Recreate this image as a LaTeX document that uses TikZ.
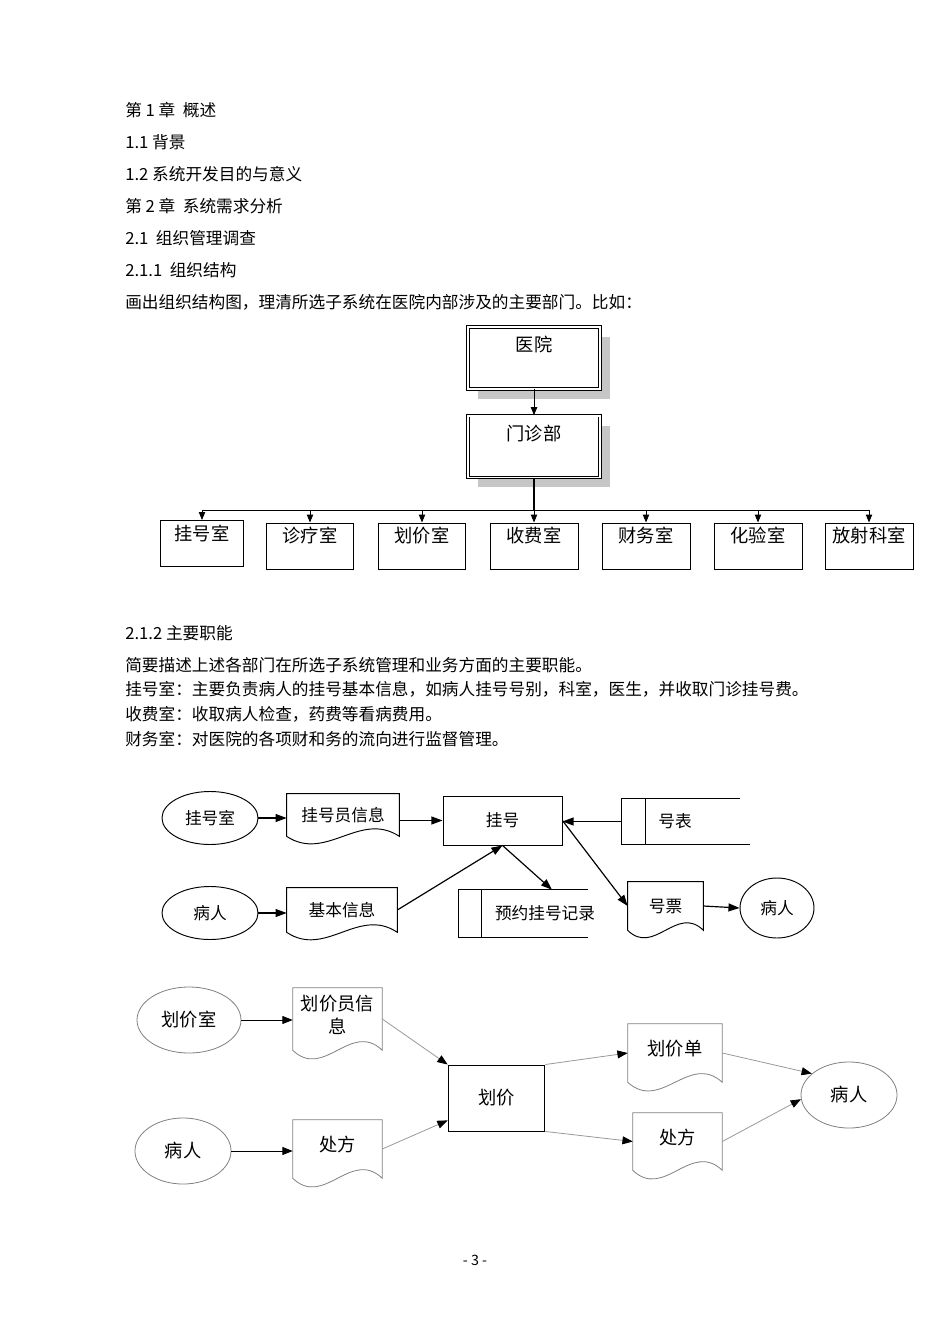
\documentclass[tikz,border=0pt]{standalone}
\usepackage{fontspec}
\setmainfont{Noto Sans CJK SC}
\usetikzlibrary{arrows.meta,shapes.geometric,shadows,calc,positioning}

\tikzset{
  txt/.style={font=\fontsize{10.5pt}{13pt}\selectfont, inner sep=0pt},
  bigtxt/.style={font=\fontsize{11.5pt}{15pt}\selectfont, inner sep=0pt},
  topbox/.style={bigtxt, draw, fill=white, line width=0.5pt, double, double distance=1.2pt,
    minimum width=83pt, text height=15.7pt, text depth=23.3pt,
    drop shadow={shadow xshift=6.3pt, shadow yshift=-6.3pt, fill=gray!45, opacity=1}},
  deptbox/.style={bigtxt, draw, line width=0.6pt, minimum width=55.4pt, text height=12.5pt, text depth=16.5pt},
  orgarr/.style={line width=0.6pt, -{Triangle[length=5pt,width=4pt]}},
  ent/.style={txt, draw, ellipse, line width=0.6pt, minimum width=60.5pt, minimum height=33.4pt},
  proc/.style={txt, draw, line width=0.55pt, minimum width=75pt, minimum height=30.9pt},
  docbox/.style={txt},
  storebox/.style={txt},
  arr/.style={line width=0.75pt, -{Triangle[length=7pt,width=5pt]}},
  entb/.style={bigtxt, draw=gray, ellipse, line width=0.5pt, minimum width=60.5pt, minimum height=41.6pt},
  procb/.style={bigtxt, draw, line width=0.6pt, minimum width=61pt, minimum height=41.6pt},
  docb/.style={bigtxt, align=center, text depth=6pt},
  arrb/.style={line width=0.6pt, -{Triangle[length=6.5pt,width=5pt]}},
  arrg/.style={line width=0.5pt, draw=gray!80, -{Triangle[length=6.5pt,width=5pt,color=black]}},
}

\begin{document}
\begin{tikzpicture}[x=0.63pt,y=-0.63pt]
  \path[fill=white] (0,0) rectangle (950,1344);
  \useasboundingbox (0,0) rectangle (950,1344);

  % headings
  \node(T1)[txt,anchor=west] at (125,110) {第 1 章~ 概述};
  \node(T2)[txt,anchor=west] at (125,142) {1.1 背景};
  \node(T3)[txt,anchor=west] at (125,174) {1.2 系统开发目的与意义};
  \node(T4)[txt,anchor=west] at (125,206) {第 2 章~ 系统需求分析};
  \node(T5)[txt,anchor=west] at (125,238) {2.1~ 组织管理调查};
  \node(T6)[txt,anchor=west] at (125,270) {2.1.1~ 组织结构};
  \node(T7)[txt,anchor=west] at (125,302) {画出组织结构图，理清所选子系统在医院内部涉及的主要部门。比如：};

  % org chart
  \node(YY)[topbox] at (534,358) {医院};
  \node(MZB)[topbox] at (534,446.5) {门诊部};
  \draw[orgarr] (YY) -- (MZB);

  \node(GHS)[deptbox,minimum width=52.3pt] at (202,543.5) {挂号室};
  \node(ZLS)[deptbox] at (310,546) {诊疗室};
  \node(HJS)[deptbox] at (422,546) {划价室};
  \node(SFS)[deptbox] at (534,546) {收费室};
  \node(CWS)[deptbox] at (646,546) {财务室};
  \node(HYS)[deptbox] at (758,546) {化验室};
  \node(FSKS)[deptbox] at (869,546) {放射科室};

  \coordinate(BUS) at (534,510);
  \draw[line width=1pt] (MZB.south) -- (BUS);
  \foreach \d in {GHS,ZLS,HJS,SFS,CWS,HYS,FSKS}
    \draw[orgarr] (BUS) -| (\d.north);

  % functions
  \node(T8)[txt,anchor=west] at (125,633) {2.1.2 主要职能};
  \node(T9)[txt,anchor=west] at (125,665) {简要描述上述各部门在所选子系统管理和业务方面的主要职能。};
  \node(T10)[txt,anchor=west] at (125,689) {挂号室：主要负责病人的挂号基本信息，如病人挂号号别，科室，医生，并收取门诊挂号费。};
  \node(T11)[txt,anchor=west] at (125,714) {收费室：收取病人检查，药费等看病费用。};
  \node(T12)[txt,anchor=west] at (125,739) {财务室：对医院的各项财和务的流向进行监督管理。};

  % registration flow
  \node(E1)[ent] at (210,818) {挂号室};
  \node(E2)[ent] at (210,913) {病人};
  \node(D1)[docbox,minimum width=70.6pt,minimum height=26.5pt] at (343,815) {挂号员信息};
  \node(D2)[docbox,minimum width=69.3pt,minimum height=27.7pt] at (342,910) {基本信息};
  \node(P1)[proc] at (502.5,820.5) {挂号};
  \node(S1)[storebox,minimum width=66.8pt,minimum height=28.4pt] at (675,821.5) {号表};
  \node(S2)[storebox,minimum width=108.4pt,minimum height=29.6pt] at (545,913.5) {预约挂号记录};
  \node(D3)[docbox,minimum width=47.3pt,minimum height=30.2pt] at (665.5,906) {号票};
  \node(E3)[ent,minimum width=46.6pt,minimum height=37.8pt] at (777,908) {病人};

  \foreach \n in {D1,D2,D3}
    \draw[line width=0.6pt] (\n.south west) -- (\n.north west) -- (\n.north east) -- (\n.south east)
      .. controls ($(\n.south east)!0.35!(\n.south west)+(0,-26)$) and ($(\n.south east)!0.65!(\n.south west)+(0,26)$) .. (\n.south west);

  \draw[line width=0.6pt] ([xshift=74.3pt]S1.north west) -- (S1.north west) -- (S1.south west) -- ([xshift=80.6pt]S1.south west);
  \draw[line width=0.6pt] ([xshift=15.1pt]S1.north west) -- ([xshift=15.1pt]S1.south west);
  \draw[line width=0.6pt] ([xshift=81.3pt]S2.north west) -- (S2.north west) -- (S2.south west) -- ([xshift=81.3pt]S2.south west);
  \draw[line width=0.6pt] ([xshift=14.5pt]S2.north west) -- ([xshift=14.5pt]S2.south west);

  \draw[arr] (E1.east) -- (E1.east -| D1.west);
  \draw[arr] (E2.east) -- (E2.east -| D2.west);
  \draw[arr] (D1.east |- P1.west) -- (P1.west);
  \draw[arr] (S1.west) -- (S1.west -| P1.east);
  \draw[arr] (D2.east) -- (P1.south);
  \draw[arr] (P1.south) -- ($(S2.north)+(7,0)$);
  \draw[arr] (P1.east) -- (D3.west);
  \draw[arr] (D3.east) -- (E3.west);

  % pricing flow
  \node(E4)[entb,minimum width=65.5pt] at (189,1020) {划价室};
  \node(E5)[entb] at (183,1151) {病人};
  \node(D4)[docb,minimum width=56pt,minimum height=39pt] at (337.5,1019) {划价员信\\息};
  \node(D5)[docb,minimum width=56pt,minimum height=36.5pt] at (337.5,1149) {处方};
  \node(P2)[procb] at (496.5,1098) {划价};
  \node(D6)[docb,minimum width=59.2pt,minimum height=36.5pt] at (675,1053) {划价单};
  \node(D7)[docb,minimum width=56pt,minimum height=35.9pt] at (677.5,1141.5) {处方};
  \node(E6)[entb] at (849,1095) {病人};

  \foreach \n in {D4,D5,D6,D7}
    \draw[line width=0.5pt,gray] (\n.south west) -- (\n.north west) -- (\n.north east) -- (\n.south east)
      .. controls ($(\n.south east)!0.35!(\n.south west)+(0,-30)$) and ($(\n.south east)!0.65!(\n.south west)+(0,30)$) .. (\n.south west);

  \draw[arrb] (E4.east) -- (E4.east -| D4.west);
  \draw[arrb] (E5.east) -- (E5.east -| D5.west);
  \draw[arrg] (D4.east) -- (P2.north west);
  \draw[arrg] (D5.east) -- ([yshift=7pt]P2.south west);
  \draw[arrg] (P2.north east) -- (D6.west);
  \draw[arrg] (P2.south east) -- (D7.west);
  \draw[arrg] (D6.east) -- (E6.150);
  \draw[arrg] (D7.east) -- (E6.185);

  \node(PG)[txt,font=\fontsize{9pt}{11pt}\selectfont] at (475,1260) {- 3 -};
\end{tikzpicture}
\end{document}
